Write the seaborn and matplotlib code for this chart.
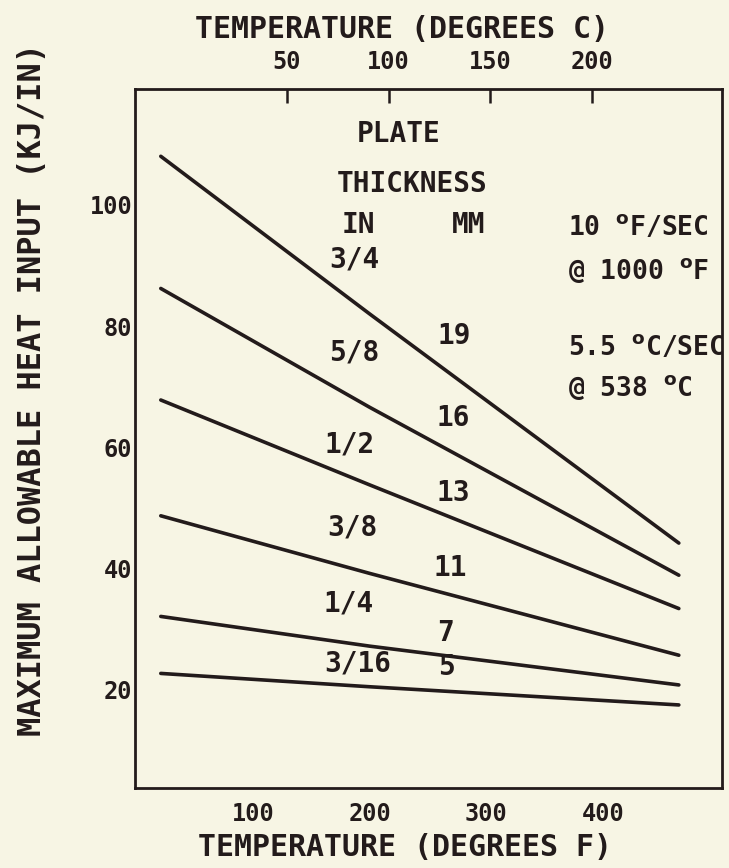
import numpy as np
import pandas as pd
import matplotlib
matplotlib.use("Agg")
import matplotlib.pyplot as plt
import seaborn as sns

# ---- data ----
temp_f = [21, 200, 465]
thickness_in = ["3/4", "5/8", "1/2", "3/8", "1/4", "3/16"]
thickness_mm = ["19", "16", "13", "11", "7", "5"]
heat_3_4 = [108.0, 82.0, 44.2]
heat_5_8 = [86.2, 66.6, 38.9]
heat_1_2 = [67.8, 53.8, 33.4]
heat_3_8 = [48.7, 39.2, 25.7]
heat_1_4 = [32.1, 27.2, 20.8]
heat_3_16 = [22.7, 20.5, 17.5]
yticks = [20, 40, 60, 80, 100]
xticks_f = [100, 200, 300, 400]
xticks_c = [50, 100, 150, 200]

series = [heat_3_4, heat_5_8, heat_1_2, heat_3_8, heat_1_4, heat_3_16]
rows = []
for name, vals in zip(thickness_in, series):
    for f, v in zip(temp_f, vals):
        rows.append({"temp_f": f, "heat": v, "thickness": name})
df = pd.DataFrame(rows)

BG = "#F7F5E4"
INK = "#231b1b"
FONT = "DejaVu Sans Mono"

sns.set_theme(style="white")
plt.rcParams["font.family"] = [FONT, "DejaVu Sans"]
plt.rcParams["font.weight"] = "bold"
plt.rcParams["mathtext.default"] = "bf"
plt.rcParams["text.color"] = INK

fig = plt.figure(figsize=(7.29, 8.68), dpi=100, facecolor=BG)
ax = fig.add_axes([135 / 729, 1 - 788 / 868, 587 / 729, 699 / 868])
ax.set_facecolor(BG)

sns.lineplot(data=df, x="temp_f", y="heat", hue="thickness",
             palette={k: INK for k in thickness_in}, linewidth=2.6,
             legend=False, ax=ax, solid_capstyle="round")

ax.set_xlim(-1.1, 502)
ax.set_ylim(3.8, 119.1)
ax.set_xlabel("")
ax.set_ylabel("")
for side in ["left", "bottom", "top", "right"]:
    ax.spines[side].set_visible(True)
    ax.spines[side].set_color(INK)
    ax.spines[side].set_linewidth(2.0)

ax.set_xticks(xticks_f)
ax.set_xticklabels([str(t) for t in xticks_f], fontweight="bold")
ax.set_yticks(yticks)
ax.set_yticklabels([str(t) for t in yticks], fontweight="bold")
ax.tick_params(axis="x", direction="in", length=8, width=1.8, color=INK,
               labelsize=17, pad=10, labelcolor=INK)
ax.tick_params(axis="y", direction="in", length=14, width=1.8, color=INK,
               labelsize=17, pad=2, labelcolor=INK)


def f2c(f):
    return (np.asarray(f) - 42.0) / 1.743


def c2f(c):
    return np.asarray(c) * 1.743 + 42.0


sec = ax.secondary_xaxis("top", functions=(f2c, c2f))
sec.set_xticks(xticks_c)
sec.set_xticklabels([str(t) for t in xticks_c], fontweight="bold")
sec.spines["top"].set_visible(False)
sec.tick_params(direction="in", length=10, width=1.8, color=INK,
                labelsize=17, pad=11, labelcolor=INK)

# annotations inside the plot
TXT = dict(fontsize=20, ha="center", va="center", fontweight="bold")
ax.text(225, 111.6, "PLATE", **TXT)
ax.text(236, 103.4, "THICKNESS", **TXT)
ax.text(190, 96.6, "IN", **TXT)
ax.text(285, 96.6, "MM", **TXT)

in_pos = [(186.6, 90.9), (187.1, 75.7), (182.8, 60.4), (185.4, 46.8),
          (182.3, 34.3), (189.8, 24.4)]
mm_pos = [(272.7, 78.3), (271.4, 64.8), (271.4, 52.4), (268.9, 40.1),
          (265.4, 29.4), (265.4, 23.8)]
for lab, (x, y) in zip(thickness_in, in_pos):
    ax.text(x, y, lab, **TXT)
for lab, (x, y) in zip(thickness_mm, mm_pos):
    ax.text(x, y, lab, **TXT)

RT = dict(fontsize=19, ha="left", va="center", fontweight="bold")
ax.text(370, 96.3, "10 $^{o}$F/SEC", **RT)
ax.text(370, 89.2, "@ 1000 $^{o}$F", **RT)
ax.text(370, 76.5, "5.5 $^{o}$C/SEC", **RT)
ax.text(370, 69.8, "@ 538 $^{o}$C", **RT)

# axis titles
fig.text(405 / 729, 1 - 848 / 868, "TEMPERATURE (DEGREES F)", fontsize=21.5,
         ha="center", va="center", fontweight="bold")
fig.text(402 / 729, 1 - 29 / 868, "TEMPERATURE (DEGREES C)", fontsize=21.5,
         ha="center", va="center", fontweight="bold")
fig.text(33 / 729, 1 - 390 / 868, "MAXIMUM ALLOWABLE HEAT INPUT (KJ/IN)",
         fontsize=23, rotation=90, ha="center", va="center", fontweight="bold")

fig.savefig("out.png", dpi=100, facecolor=BG)
